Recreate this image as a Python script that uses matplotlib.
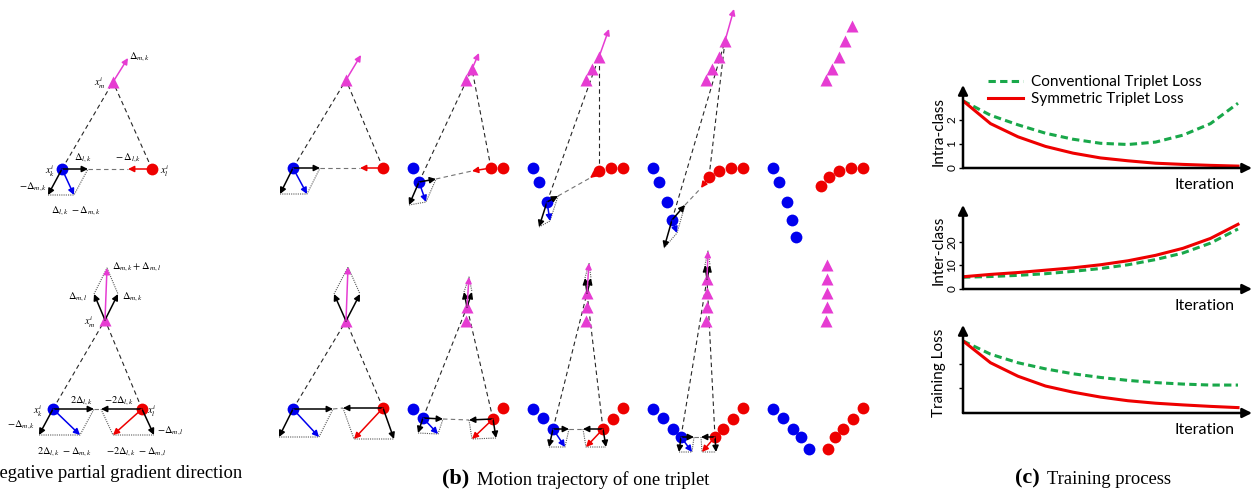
import matplotlib.pyplot as plt
import numpy as np

plt.rcParams['mathtext.fontset'] = 'stix'

W, H = 1258, 493

# ---------- (b) motion trajectory, positions in picture pixels (last column) ----------
top_blue = [(773, 168), (779, 182), (787, 202), (792, 220), (796, 237)]
top_red = [(863, 168), (851, 168), (839, 171), (829, 177), (821, 186)]
top_tri = [(826, 80), (832, 69), (839, 57), (845, 41), (852, 26)]
bot_blue = [(773, 409), (783, 418), (793, 429), (801, 437), (809, 449)]
bot_red = [(863, 408), (853, 419), (843, 429), (835, 437), (828, 449)]
bot_tri = [(826, 321), (827, 307), (827, 293), (827, 279), (827, 265)]
col_shift = [-480, -360, -240, -120, 0]

# gradient vectors for steps 0..3 (top row: conventional triplet loss)
top_v_m = [(15, -25), (7, -16), (10, -28), (9, -32)]
top_v_lk = [(27, 0), (17, -3), (11, -6), (13, -15)]
top_v_red = [(-23, 0), (-19, 3), (-9, 7), (-8, 11)]
top_v_mk = [(-13, 26), (-10, 23), (-8, 25), (-8, 28)]
# bottom row: symmetric triplet loss
bot_v_ml = [(-12, -27), (-3, -15), (-2, -15), (-2, -14)]
bot_v_mk = [(14, -27), (5, -15), (4, -15), (3, -14)]
bot_v_lk = [(40, 0), (20, 1), (16, 0), (13, 0)]
bot_v_mkn = [(-14, 28), (-5, 15), (-4, 18), (-2, 15)]
bot_v_lkr = [(-40, 0), (-24, 1), (-20, 0), (-14, 0)]
bot_v_mln = [(11, 31), (3, 19), (3, 18), (1, 15)]

# ---------- (a) single triplet ----------
a_top = dict(b=(62, 169), r=(152, 169), t=(113, 82))
a_top_v = dict(m=(15, -24), lk=(26, 0), red=(-24, 0), mk=(-14, 26))
a_bot = dict(b=(53, 409), r=(142, 409), t=(105, 320))
a_bot_v = dict(ml=(-11, -26), mk=(13, -26), lk=(41, 0), mkn=(-14, 26), lkr=(-41, 0), mln=(12, 26))

a_labels = [
    (r'$\Delta_{m,k}$', 140, 57), (r'$x_m^i$', 100, 83), (r'$\Delta_{l,k}$', 83, 158),
    (r'$-\,\Delta_{l,k}$', 128, 158), (r'$x_k^i$', 50, 171), (r'$x_l^i$', 165, 171),
    (r'$-\Delta_{m,k}$', 33, 187), (r'$\Delta_{l,k}\ -\Delta_{m,k}$', 76, 211),
    (r'$\Delta_{m,k}+\Delta_{m,l}$', 137, 267), (r'$\Delta_{m,l}$', 78, 297),
    (r'$\Delta_{m,k}$', 133, 297), (r'$x_m^i$', 90, 322), (r'$2\Delta_{l,k}$', 82, 401),
    (r'$-2\Delta_{l,k}$', 119, 401), (r'$x_k^i$', 38, 411), (r'$x_l^i$', 152, 411),
    (r'$-\Delta_{m,k}$', 21, 425), (r'$-\Delta_{m,l}$', 170, 431),
    (r'$2\Delta_{l,k}\ -\Delta_{m,k}$', 65, 452), (r'$-2\Delta_{l,k}\ -\Delta_{m,l}$', 136, 452),
]

# ---------- (c) training process ----------
iters = np.arange(0, 101, 10)
intra_conv = [2.8, 2.2, 1.8, 1.45, 1.2, 1.03, 0.98, 1.08, 1.37, 1.85, 2.7]
intra_sym = [2.8, 1.85, 1.3, 0.9, 0.62, 0.42, 0.3, 0.2, 0.15, 0.11, 0.08]
inter_conv = [5, 5.3, 5.8, 6.5, 7.5, 8.7, 10.3, 12.5, 15.3, 19.5, 25.5]
inter_sym = [5.2, 6.2, 7.0, 8.0, 9.0, 10.3, 12, 14.3, 17.3, 21.5, 27.5]
loss_conv = [2.94, 2.4, 2.05, 1.8, 1.6, 1.45, 1.33, 1.24, 1.18, 1.14, 1.14]
loss_sym = [2.94, 2.05, 1.5, 1.1, 0.85, 0.65, 0.5, 0.4, 0.33, 0.27, 0.22]

BLUE = '#0000ee'
RED = '#ee0000'
MAG = '#e63cd2'
GREEN = '#19a84a'

fig = plt.figure(figsize=(W / 100, H / 100), dpi=100)
ax = fig.add_axes([0, 0, 1, 1])
ax.set_xlim(0, W)
ax.set_ylim(H, 0)
ax.axis('off')


def add(p, v):
    return (p[0] + v[0], p[1] + v[1])


def arrow(p, v, color, lw=1.1):
    ax.annotate('', xy=add(p, v), xytext=p, zorder=4,
                arrowprops=dict(arrowstyle='-|>', color=color, lw=lw, mutation_scale=9,
                                shrinkA=0, shrinkB=0))


def dash(p, q, color='0.15'):
    ax.plot([p[0], q[0]], [p[1], q[1]], ls=(0, (4, 3)), color=color, lw=0.8, zorder=1)


def dot(pts):
    xs, ys = zip(*pts)
    ax.plot(xs, ys, ls=(0, (1, 1)), color='0.35', lw=0.8, zorder=1)


def marks(pts, mk, color, ms):
    xs, ys = zip(*pts)
    ax.plot(xs, ys, mk, color=color, ms=ms, mec='none', zorder=2)


def top_triplet(b, r, t, vm, vlk, vr, vmk):
    dash(b, t)
    dash(r, t)
    dash(add(b, vlk), add(r, vr), '0.45')
    s = add(vlk, vmk)
    dot([add(b, vmk), add(b, s), add(b, vlk)])
    arrow(t, vm, MAG)
    arrow(b, vlk, 'k')
    arrow(b, vmk, 'k')
    arrow(b, s, BLUE)
    arrow(r, vr, RED)


def bot_triplet(b, r, t, vml, vmk, vlk, vmkn, vlkr, vmln):
    dash(b, t)
    dash(r, t)
    dash(add(b, vlk), add(r, vlkr), '0.45')
    sm = add(vml, vmk)
    sb = add(vlk, vmkn)
    sr = add(vlkr, vmln)
    dot([add(t, vml), add(t, sm), add(t, vmk)])
    dot([add(b, vmkn), add(b, sb), add(b, vlk)])
    dot([add(r, vlkr), add(r, sr), add(r, vmln)])
    arrow(t, vml, 'k')
    arrow(t, vmk, 'k')
    arrow(t, sm, MAG)
    arrow(b, vlk, 'k')
    arrow(b, vmkn, 'k')
    arrow(b, sb, BLUE)
    arrow(r, vlkr, 'k')
    arrow(r, vmln, 'k')
    arrow(r, sr, RED)


MS_C, MS_T = 8.5, 9

# panel (a)
marks([a_top['b']], 'o', BLUE, MS_C)
marks([a_top['r']], 'o', RED, MS_C)
marks([a_top['t']], '^', MAG, MS_T)
top_triplet(a_top['b'], a_top['r'], a_top['t'], a_top_v['m'], a_top_v['lk'],
            a_top_v['red'], a_top_v['mk'])
marks([a_bot['b']], 'o', BLUE, MS_C)
marks([a_bot['r']], 'o', RED, MS_C)
marks([a_bot['t']], '^', MAG, MS_T)
bot_triplet(a_bot['b'], a_bot['r'], a_bot['t'], a_bot_v['ml'], a_bot_v['mk'], a_bot_v['lk'],
            a_bot_v['mkn'], a_bot_v['lkr'], a_bot_v['mln'])
for txt, x, y in a_labels:
    ax.text(x, y, txt, fontsize=7.5, ha='center', va='center', zorder=5)

# panel (b)
for k, dx in enumerate(col_shift):
    sh = lambda pts: [(p[0] + dx, p[1]) for p in pts[:k + 1]]
    marks(sh(top_blue), 'o', BLUE, MS_C)
    marks(sh(top_red), 'o', RED, MS_C)
    marks(sh(top_tri), '^', MAG, MS_T)
    marks(sh(bot_blue), 'o', BLUE, MS_C)
    marks(sh(bot_red), 'o', RED, MS_C)
    marks(sh(bot_tri), '^', MAG, MS_T)
    if k < 4:
        tb, tr, tt = sh(top_blue)[-1], sh(top_red)[-1], sh(top_tri)[-1]
        top_triplet(tb, tr, tt, top_v_m[k], top_v_lk[k], top_v_red[k], top_v_mk[k])
        bb, br, bt = sh(bot_blue)[-1], sh(bot_red)[-1], sh(bot_tri)[-1]
        bot_triplet(bb, br, bt, bot_v_ml[k], bot_v_mk[k], bot_v_lk[k],
                    bot_v_mkn[k], bot_v_lkr[k], bot_v_mln[k])

# captions (panel (a) caption runs off the left edge, as in the source figure)
serif = 'Liberation Serif'
ax.text(242, 473, 'Negative partial gradient direction', fontsize=13.4, family=serif,
        ha='right', va='center')
ax.text(-20, 472, '(a)', fontsize=16, family=serif, weight='bold', ha='right', va='center')
ax.text(469, 478, '(b)', fontsize=16, family=serif, weight='bold', ha='right', va='center')
ax.text(477, 480, 'Motion trajectory of one triplet', fontsize=13.4, family=serif,
        ha='left', va='center')
ax.text(1040, 478, '(c)', fontsize=16, family=serif, weight='bold', ha='right', va='center')
ax.text(1047, 480, 'Training process', fontsize=13.4, family=serif, ha='left', va='center')

# panel (c)
sans = 'Lato'
x0, xend, xtip = 963, 1238, 1252


def small_axes(bottom, top, ymax, yticks, ticklabels, ylabel, yc):
    a = fig.add_axes([x0 / W, 1 - bottom / H, (xtip - x0) / W, (bottom - top) / H])
    a.set_xlim(0, 100 * (xtip - x0) / (xend - x0))
    a.set_ylim(0, ymax)
    a.patch.set_alpha(0)
    for s in a.spines.values():
        s.set_visible(False)
    a.set_xticks([])
    a.set_yticks(yticks)
    a.set_yticklabels(ticklabels, rotation=90, va='center', fontsize=8.5, family=sans)
    a.tick_params(axis='y', length=3, width=1, pad=1)
    for xy in [(1, 0), (0, 1)]:
        a.annotate('', xy=xy, xytext=(0, 0), xycoords='axes fraction', annotation_clip=False,
                   arrowprops=dict(arrowstyle='-|>', color='k', lw=1.8, mutation_scale=14,
                                   shrinkA=0, shrinkB=0))
    fig.text(939 / W, 1 - yc / H, ylabel, rotation=90, ha='center', va='center',
             fontsize=11, family=sans)
    fig.text(1235 / W, 1 - (bottom + 17) / H, 'Iteration', ha='right', va='center',
             fontsize=11.5, family=sans)
    return a


a1 = small_axes(168, 85, 3.46, [0, 1, 2], ['0', '1', '2'], 'Intra-class', 132)
a1.plot(iters, intra_conv, color=GREEN, lw=2.2, ls=(0, (2.4, 1.4)), label='Conventional Triplet Loss')
a1.plot(iters, intra_sym, color=RED, lw=2.2, label='Symmetric Triplet Loss')
a1.legend(loc='upper left', bbox_to_anchor=(988 / W, 1 - 75 / H), bbox_transform=fig.transFigure,
          frameon=False, borderpad=0, borderaxespad=0, handlelength=2.3, handletextpad=0.5,
          labelspacing=0.2, prop=dict(family=sans, size=11))

a2 = small_axes(289, 205, 35.7, [0, 10, 20], ['0', '10', '20'], 'Inter-class', 250)
a2.plot(iters, inter_conv, color=GREEN, lw=2.2, ls=(0, (2.4, 1.4)))
a2.plot(iters, inter_sym, color=RED, lw=2.2)

a3 = small_axes(413, 325, 3.59, [1, 2], ['', ''], 'Training Loss', 373)
a3.plot(iters, loss_conv, color=GREEN, lw=2.2, ls=(0, (2.4, 1.4)))
a3.plot(iters, loss_sym, color=RED, lw=2.2)

fig.savefig('out.png', dpi=100)
